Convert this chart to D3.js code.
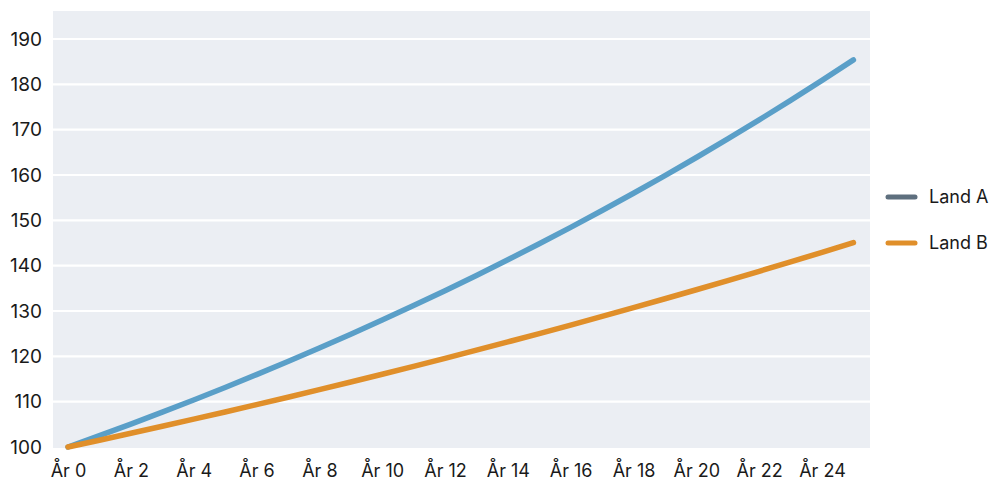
<!DOCTYPE html>
<html><head><meta charset="utf-8">
<script src="https://cdn.jsdelivr.net/npm/d3@7"></script>
<style>body{margin:0;background:#fff;font-family:Inter,"Noto Sans",sans-serif;}</style>
</head><body>
<svg id="c" width="992" height="481"></svg>
<script>
const years = d3.range(0, 26);
const landA = [100,102.50,105.06,107.69,110.38,113.14,115.97,118.87,121.84,124.89,128.01,131.21,134.49,137.85,141.30,144.83,148.45,152.16,155.97,159.87,163.86,167.96,172.16,176.46,180.87,185.39];
const landB = [100,101.50,103.02,104.57,106.14,107.73,109.34,110.98,112.65,114.34,116.05,117.79,119.56,121.36,123.18,125.02,126.90,128.80,130.73,132.70,134.69,136.71,138.76,140.84,142.95,145.09];
const yTicks = [100,110,120,130,140,150,160,170,180,190];
const xTicks = [0,2,4,6,8,10,12,14,16,18,20,22,24];
const seriesNames = ["Land A","Land B"];
const lineColors = ["#5a9fc8","#e08f2a"];
const legendColors = ["#5e6f7e","#e08f2a"];

const svg = d3.select("#c");
const x = d3.scaleLinear().domain([0,24]).range([68,822]);
const y = d3.scaleLinear().domain([100,190]).range([447,39]);
const FONT = "Inter, 'Noto Sans', sans-serif";

svg.append("rect").attr("x",53).attr("y",11).attr("width",817).attr("height",437).attr("fill","#ebeef3");

svg.append("g").selectAll("line").data(yTicks.slice(1)).join("line")
  .attr("x1",53).attr("x2",870).attr("y1",d=>y(d)).attr("y2",d=>y(d))
  .attr("stroke","#fff").attr("stroke-width",2.2);

const yAxis = svg.append("g").attr("transform","translate(53,0)")
  .call(d3.axisLeft(y).tickValues(yTicks).tickSize(0).tickPadding(11));
yAxis.select(".domain").remove();
yAxis.selectAll("text").attr("font-size",19).attr("fill","#1a1a1a").attr("font-family",FONT);

const xAxis = svg.append("g").attr("transform","translate(0,448)")
  .call(d3.axisBottom(x).tickValues(xTicks).tickSize(0).tickPadding(16).tickFormat(d=>"År "+d));
xAxis.select(".domain").remove();
xAxis.selectAll("text").attr("font-size",18).attr("fill","#1a1a1a").attr("font-family",FONT);

const line = d3.line().x((d,i)=>x(years[i])).y(d=>y(d)).curve(d3.curveMonotoneX);
[landA, landB].forEach((s,k)=>{
  svg.append("path").datum(s).attr("d",line).attr("fill","none")
    .attr("stroke",lineColors[k]).attr("stroke-width",5.5).attr("stroke-linecap","round").attr("stroke-linejoin","round");
});

const leg = svg.append("g");
seriesNames.forEach((n,k)=>{
  const yy = 197 + k*46;
  leg.append("line").attr("x1",888).attr("x2",915).attr("y1",yy).attr("y2",yy)
    .attr("stroke",legendColors[k]).attr("stroke-width",5).attr("stroke-linecap","round");
  leg.append("text").attr("x",929).attr("y",yy).attr("dy","0.35em").attr("font-size",18)
    .attr("fill","#1a1a1a").attr("font-family",FONT).text(n);
});
</script>
</body></html>
